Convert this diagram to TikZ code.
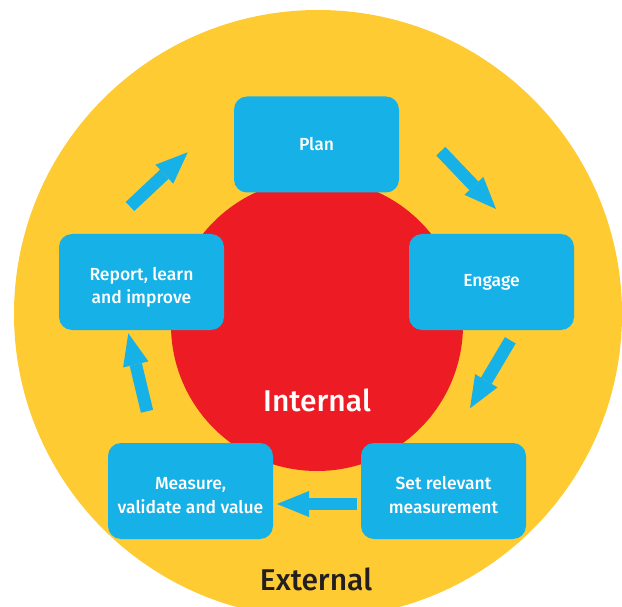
\documentclass[tikz,border=0pt]{standalone}
\usepackage{fontspec}
\setmainfont{Fira Sans}
\IfFontExistsTF{Fira Sans Medium}
  {\newfontfamily\medfont{Fira Sans Medium}}
  {\newfontfamily\medfont{Fira Sans}[FakeBold=0.6]}
\usetikzlibrary{arrows.meta}
\definecolor{ecyellow}{RGB}{254,203,51}
\definecolor{ecred}{RGB}{237,28,36}
\definecolor{ecblue}{RGB}{22,177,230}
\definecolor{ecdark}{RGB}{35,31,32}

\begin{document}
\begin{tikzpicture}%
  [x=1pt,y=-1pt,
   two lines/.style={text height=49pt,text depth=5pt},
   flow/.style={draw=ecblue,line width=12.5pt,
     -{Triangle[width=26pt,length=32pt,line width=0pt]}}]
  \tikzstyle{stage node}=[rectangle,rounded corners=13pt,fill=ecblue,text=white,
    minimum width=165pt,minimum height=96pt,inner sep=0,align=center,
    font=\medfont\fontsize{17.5}{24}\selectfont]
  \tikzstyle{ring node}=[circle,inner sep=0]
  \useasboundingbox (0,0) rectangle (622,607);
  \clip (0,0) rectangle (622,607);
  \node(0)[ring node,fill=ecyellow,minimum size=608pt] at (318,314) {};
  \node(00)[ring node,fill=ecred,minimum size=292pt] at (317,325) {};
  \node(in) at (317,400) [text=white,font=\medfont\fontsize{30}{32}\selectfont] {Internal};
  \node(ex) at (316,579) [text=ecdark,font=\medfont\fontsize{30}{32}\selectfont] {External};
  \node(1)[stage node] at (316.5,144.5) {Plan};
  \node(2)[stage node] at (491.5,282) {Engage};
  \node(3)[stage node,two lines] at (443.5,491) {Set relevant\\measurement};
  \node(4)[stage node,two lines] at (190.5,491) {Measure,\\validate and value};
  \node(5)[stage node,two lines] at (141.5,282) {Report, learn\\and improve};
  % arrow ends
  \coordinate (a1) at (130,206.5);  \coordinate (b1) at (187.7,152.3);
  \coordinate (a2) at (440.8,151.2); \coordinate (b2) at (496,209);
  \coordinate (a3) at (510.3,340.3); \coordinate (b3) at (470,408.3);
  \coordinate (a4) at (357,504);    \coordinate (b4) at (277,504);
  \coordinate (a5) at (147,411.3);  \coordinate (b5) at (128.3,333.3);
  \foreach \i in {1,...,5}
    \draw[flow] (a\i) -- (b\i);
\end{tikzpicture}
\end{document}
